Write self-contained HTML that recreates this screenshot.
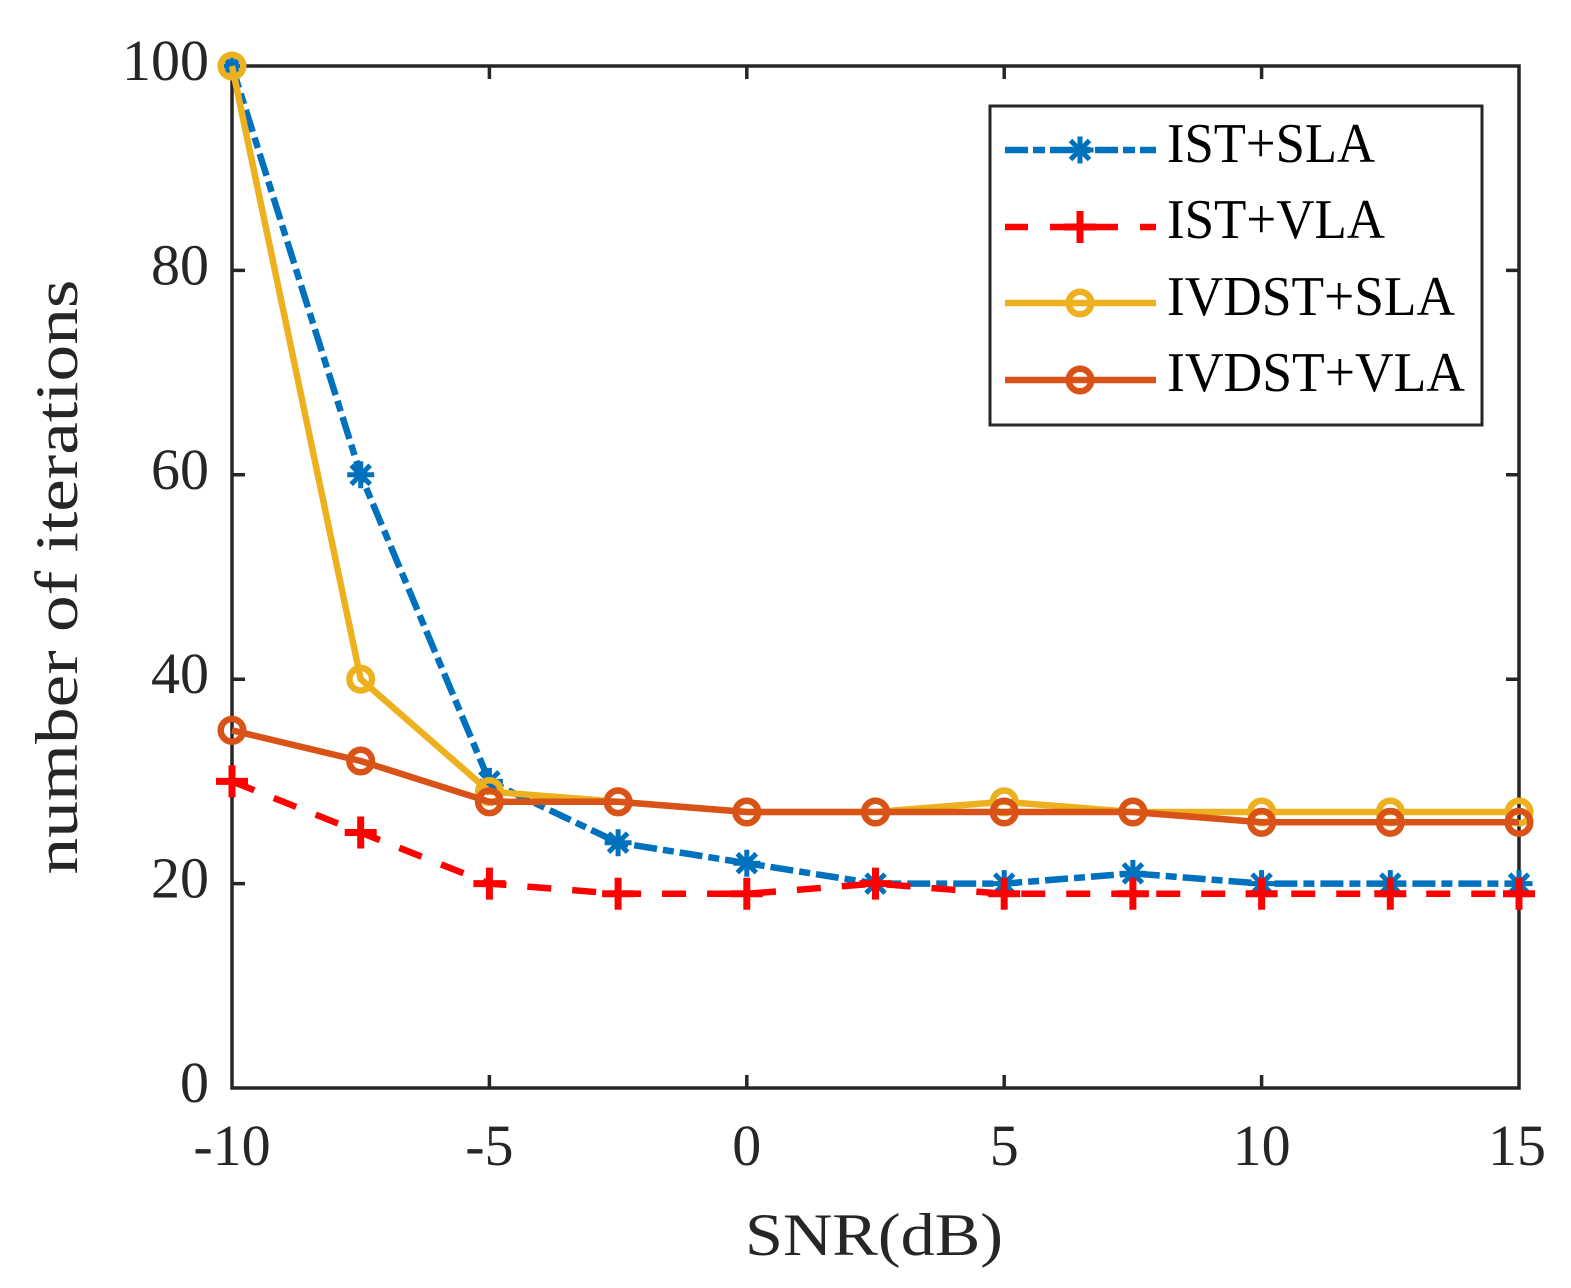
<!DOCTYPE html>
<html>
<head>
<meta charset="utf-8">
<style>
html,body{margin:0;padding:0;background:#fff;}
svg{display:block;}
text{font-family:"Liberation Serif",serif;fill:#262626;}
</style>
</head>
<body>
<svg width="1571" height="1288" viewBox="0 0 1571 1288" xmlns="http://www.w3.org/2000/svg">
<defs>
  <g id="ast"><path d="M-13.5 0H13.5M0 -13.5V13.5M-9.5 -9.5L9.5 9.5M-9.5 9.5L9.5 -9.5" stroke="#0072BD" stroke-width="5" fill="none"/></g>
  <g id="plus"><path d="M-16 0H16M0 -16V16" stroke="#FF0000" stroke-width="7" fill="none"/></g>
  <g id="cy"><circle r="11.3" stroke="#EDB120" stroke-width="6.5" fill="none"/></g>
  <g id="co"><circle r="11.3" stroke="#D95319" stroke-width="6.5" fill="none"/></g>
</defs>

<!-- axes box -->
<g stroke="#262626" stroke-width="3.5" fill="none">
  <rect x="232" y="66" width="1287" height="1022"/>
  <!-- y ticks -->
  <path d="M232 883.6h13M232 679.2h13M232 474.8h13M232 270.4h13
           M1519 883.6h-13M1519 679.2h-13M1519 474.8h-13M1519 270.4h-13"/>
  <!-- x ticks -->
  <path d="M489.4 1088v-13M746.8 1088v-13M1004.2 1088v-13M1261.6 1088v-13
           M489.4 66v13M746.8 66v13M1004.2 66v13M1261.6 66v13"/>
</g>

<!-- y tick labels -->
<g font-size="58" text-anchor="end">
  <text x="209" y="80">100</text>
  <text x="209" y="284.4">80</text>
  <text x="209" y="488.8">60</text>
  <text x="209" y="693.2">40</text>
  <text x="209" y="897.6">20</text>
  <text x="209" y="1102">0</text>
</g>
<!-- x tick labels -->
<g font-size="58" text-anchor="middle">
  <text x="232" y="1165">-10</text>
  <text x="489.4" y="1165">-5</text>
  <text x="746.8" y="1165">0</text>
  <text x="1004.2" y="1165">5</text>
  <text x="1261.6" y="1165">10</text>
  <text x="1517" y="1165">15</text>
</g>

<!-- axis titles -->
<text x="745" y="1255" font-size="60" textLength="258" lengthAdjust="spacingAndGlyphs">SNR(dB)</text>
<text x="77" y="577" font-size="60" text-anchor="middle" textLength="595" lengthAdjust="spacingAndGlyphs" transform="rotate(-90 77 577)">number of iterations</text>

<!-- IST+SLA -->
<polyline fill="none" stroke="#0072BD" stroke-width="6.5" stroke-dasharray="23 6 11 6"
  points="232,66 360.7,474.8 489.4,781.4 618.1,842.7 746.8,863.2 875.5,883.6 1004.2,883.6 1132.9,873.4 1261.6,883.6 1390.3,883.6 1519,883.6"/>
<use href="#ast" x="232" y="66"/>
<use href="#ast" x="360.7" y="474.8"/>
<use href="#ast" x="489.4" y="781.4"/>
<use href="#ast" x="618.1" y="842.7"/>
<use href="#ast" x="746.8" y="863.2"/>
<use href="#ast" x="875.5" y="883.6"/>
<use href="#ast" x="1004.2" y="883.6"/>
<use href="#ast" x="1132.9" y="873.4"/>
<use href="#ast" x="1261.6" y="883.6"/>
<use href="#ast" x="1390.3" y="883.6"/>
<use href="#ast" x="1519" y="883.6"/>

<!-- IST+VLA -->
<polyline fill="none" stroke="#FF0000" stroke-width="6.5" stroke-dasharray="24 21"
  points="232,781.4 360.7,832.5 489.4,883.6 618.1,893.8 746.8,893.8 875.5,883.6 1004.2,893.8 1132.9,893.8 1261.6,893.8 1390.3,893.8 1519,893.8"/>
<use href="#plus" x="232" y="781.4"/>
<use href="#plus" x="360.7" y="832.5"/>
<use href="#plus" x="489.4" y="883.6"/>
<use href="#plus" x="618.1" y="893.8"/>
<use href="#plus" x="746.8" y="893.8"/>
<use href="#plus" x="875.5" y="883.6"/>
<use href="#plus" x="1004.2" y="893.8"/>
<use href="#plus" x="1132.9" y="893.8"/>
<use href="#plus" x="1261.6" y="893.8"/>
<use href="#plus" x="1390.3" y="893.8"/>
<use href="#plus" x="1519" y="893.8"/>

<!-- IVDST+SLA -->
<polyline fill="none" stroke="#EDB120" stroke-width="6.5" stroke-linejoin="round"
  points="232,66 360.7,679.2 489.4,791.6 618.1,801.8 746.8,812 875.5,812 1004.2,801.8 1132.9,812 1261.6,812 1390.3,812 1519,812"/>
<use href="#cy" x="232" y="66"/>
<use href="#cy" x="360.7" y="679.2"/>
<use href="#cy" x="489.4" y="791.6"/>
<use href="#cy" x="618.1" y="801.8"/>
<use href="#cy" x="746.8" y="812"/>
<use href="#cy" x="875.5" y="812"/>
<use href="#cy" x="1004.2" y="801.8"/>
<use href="#cy" x="1132.9" y="812"/>
<use href="#cy" x="1261.6" y="812"/>
<use href="#cy" x="1390.3" y="812"/>
<use href="#cy" x="1519" y="812"/>

<!-- IVDST+VLA -->
<polyline fill="none" stroke="#D95319" stroke-width="6.5" stroke-linejoin="round"
  points="232,730.3 360.7,761 489.4,801.8 618.1,801.8 746.8,812 875.5,812 1004.2,812 1132.9,812 1261.6,822.3 1390.3,822.3 1519,822.3"/>
<use href="#co" x="232" y="730.3"/>
<use href="#co" x="360.7" y="761"/>
<use href="#co" x="489.4" y="801.8"/>
<use href="#co" x="618.1" y="801.8"/>
<use href="#co" x="746.8" y="812"/>
<use href="#co" x="875.5" y="812"/>
<use href="#co" x="1004.2" y="812"/>
<use href="#co" x="1132.9" y="812"/>
<use href="#co" x="1261.6" y="822.3"/>
<use href="#co" x="1390.3" y="822.3"/>
<use href="#co" x="1519" y="822.3"/>

<!-- legend -->
<rect x="990" y="106" width="492" height="319" fill="#fff" stroke="#262626" stroke-width="3"/>
<line x1="1005" y1="150" x2="1156" y2="150" stroke="#0072BD" stroke-width="6.5" stroke-dasharray="23 5 12 5"/>
<use href="#ast" x="1080" y="150"/>
<line x1="1005" y1="227" x2="1156" y2="227" stroke="#FF0000" stroke-width="6.5" stroke-dasharray="23 22"/>
<use href="#plus" x="1080" y="227"/>
<line x1="1005" y1="303" x2="1156" y2="303" stroke="#EDB120" stroke-width="6.5"/>
<use href="#cy" x="1080" y="303"/>
<line x1="1005" y1="380" x2="1156" y2="380" stroke="#D95319" stroke-width="6.5"/>
<use href="#co" x="1080" y="380"/>
<g font-size="56" style="fill:#000">
  <text x="1167" y="162" textLength="208" lengthAdjust="spacingAndGlyphs" style="fill:#000">IST+SLA</text>
  <text x="1167" y="238" textLength="218" lengthAdjust="spacingAndGlyphs" style="fill:#000">IST+VLA</text>
  <text x="1167" y="315" textLength="288" lengthAdjust="spacingAndGlyphs" style="fill:#000">IVDST+SLA</text>
  <text x="1167" y="391" textLength="298" lengthAdjust="spacingAndGlyphs" style="fill:#000">IVDST+VLA</text>
</g>
</svg>
</body>
</html>
